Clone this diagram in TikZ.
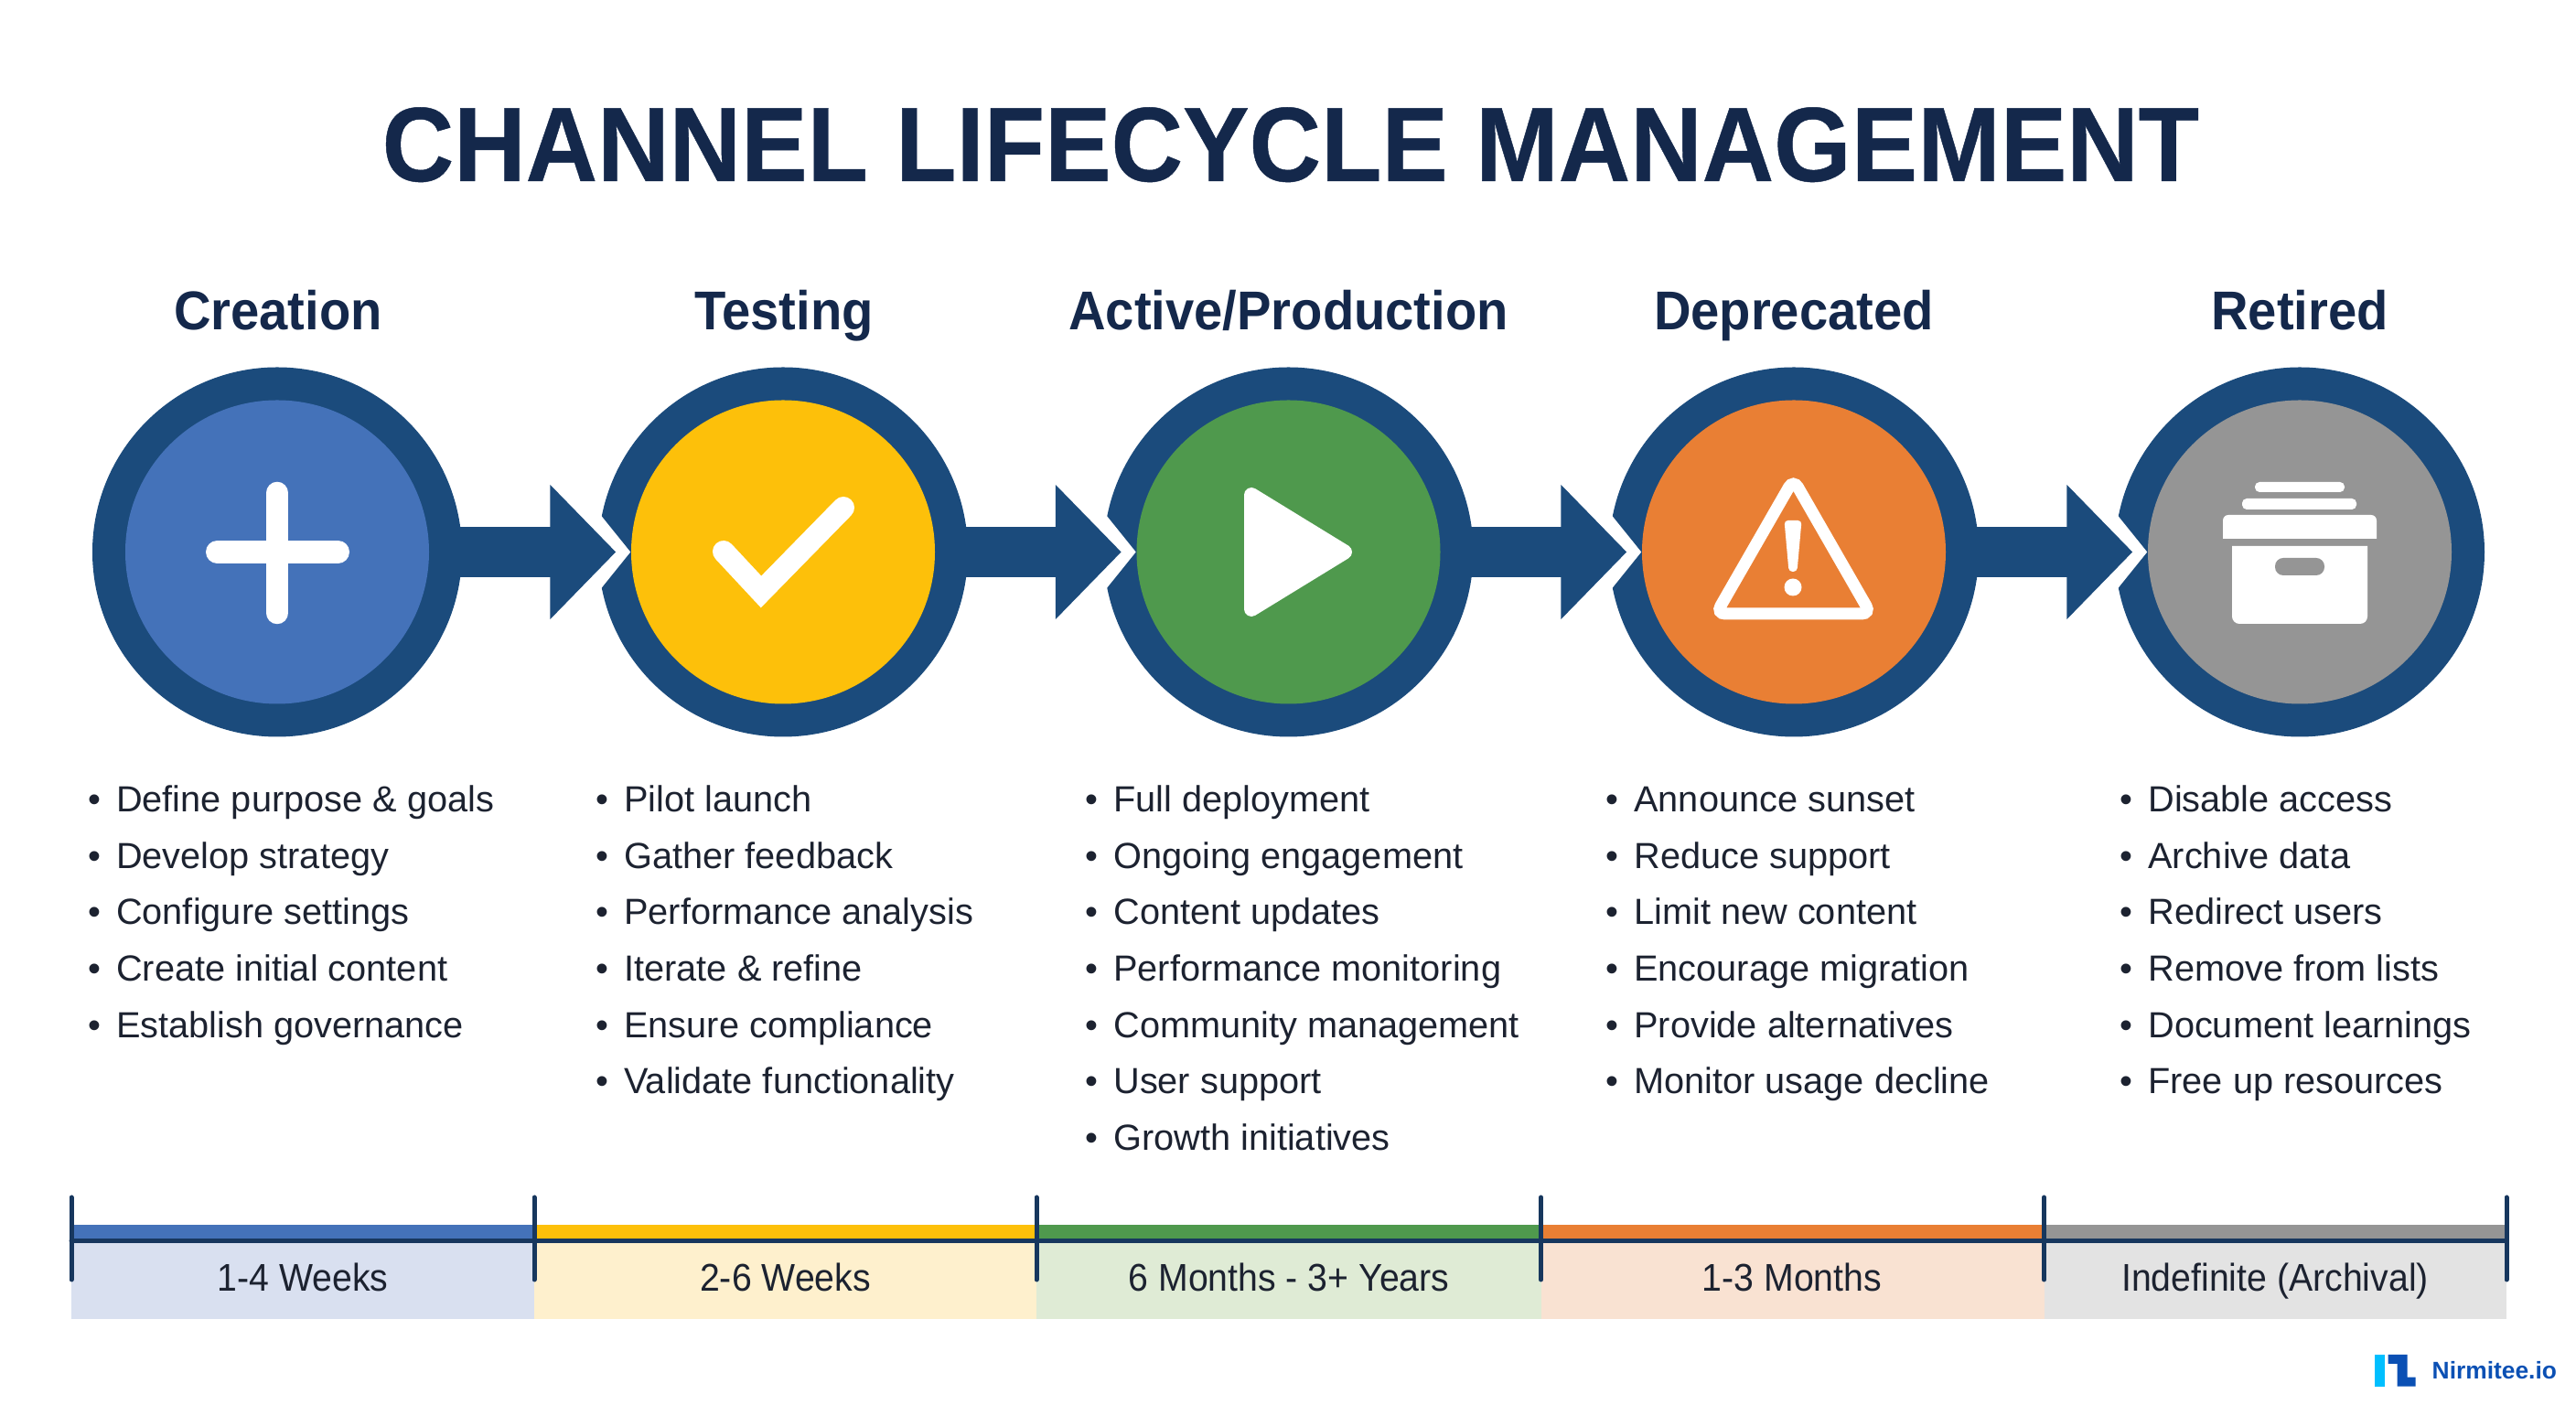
\documentclass[tikz,border=0pt]{standalone}
\usepackage{fontspec}
\setmainfont{Liberation Sans}
\newfontfamily\titlefont[FakeStretch=0.94, BoldFeatures={FakeBold=0.4}]{Liberation Sans}
\newfontfamily\namefont[FakeStretch=0.94]{Liberation Sans}
\newfontfamily\spanfont[FakeStretch=0.93]{Liberation Sans}
\usetikzlibrary{arrows.meta}

\definecolor{ringblue}{HTML}{1B4B7C}
\definecolor{tickblue}{HTML}{17375E}
\definecolor{headink}{HTML}{14284B}
\definecolor{bodyink}{HTML}{1C2230}
\definecolor{createblue}{HTML}{4472B9}
\definecolor{testyellow}{HTML}{FDC00A}
\definecolor{activegreen}{HTML}{4F994D}
\definecolor{deprorange}{HTML}{E97F34}
\definecolor{retiregray}{HTML}{959595}
\definecolor{createlight}{HTML}{D9E0F0}
\definecolor{testlight}{HTML}{FEF0CD}
\definecolor{activelight}{HTML}{DFEBD5}
\definecolor{deprlight}{HTML}{F9E2D2}
\definecolor{retirelight}{HTML}{E3E3E3}
\definecolor{logocyan}{HTML}{00BFFF}
\definecolor{logoblue}{HTML}{0B50B4}

\newcommand{\bl}{\makebox[0.307cm][l]{\rule{0pt}{10pt}\textbullet}}

\tikzset{
	ring/.style={circle, fill=ringblue, minimum size=4.04cm, inner sep=0},
	disc/.style={circle, minimum size=3.32cm, inner sep=0},
	stagearrow/.style={ringblue, line width=0.55cm, -{Triangle[width=1.43cm, length=0.72cm]}, shorten >=-0.2cm},
	arrowgap/.style={white, line width=0.2cm, -{Triangle[width=2.14cm, length=0.88cm]}, shorten >=-0.36cm},
	stagename/.style={anchor=base, text=headink, font=\fontsize{17pt}{20pt}\selectfont\namefont\bfseries},
	steps/.style={anchor=north west, inner sep=0, align=left, text=bodyink, font=\fontsize{11.3pt}{17.52pt}\selectfont},
	span/.style={anchor=base, text=bodyink, font=\fontsize{12pt}{14pt}\selectfont\spanfont},
	iconline/.style={white, line cap=round},
	tick/.style={tickblue, line width=0.05cm, line cap=round}
}

\begin{document}
\begin{tikzpicture}
	\useasboundingbox (0, 0) rectangle (28.16, 15.36);

	\node[anchor=base, text=headink, font=\fontsize{32.9pt}{36pt}\selectfont\titlefont\bfseries] (title) at (14.11, 13.38) {CHANNEL LIFECYCLE MANAGEMENT};

	\node[stagename] (creationname) at (3.04, 11.75) {Creation};
	\node[stagename] (testingname) at (8.57, 11.75) {Testing};
	\node[stagename] (activename) at (14.085, 11.75) {Active/Production};
	\node[stagename] (deprecatedname) at (19.61, 11.75) {Deprecated};
	\node[stagename] (retiredname) at (25.14, 11.75) {Retired};

	\node[ring] (creation) at (3.03, 9.325) {};
	\node[ring] (testing) at (8.56, 9.325) {};
	\node[ring] (active) at (14.085, 9.325) {};
	\node[ring] (deprecated) at (19.61, 9.325) {};
	\node[ring] (retired) at (25.14, 9.325) {};

	\draw[arrowgap] (creation.center) -- (testing);
	\draw[arrowgap] (testing.center) -- (active);
	\draw[arrowgap] (active.center) -- (deprecated);
	\draw[arrowgap] (deprecated.center) -- (retired);

	\draw[stagearrow] (creation.center) -- (testing);
	\draw[stagearrow] (testing.center) -- (active);
	\draw[stagearrow] (active.center) -- (deprecated);
	\draw[stagearrow] (deprecated.center) -- (retired);

	\node[disc, fill=createblue] (creationdisc) at (creation) {};
	\node[disc, fill=testyellow] (testingdisc) at (testing) {};
	\node[disc, fill=activegreen] (activedisc) at (active) {};
	\node[disc, fill=deprorange] (deprecateddisc) at (deprecated) {};
	\node[disc, fill=retiregray] (retireddisc) at (retired) {};

	% icons
	\draw[iconline, line width=0.245cm] (3.03, 9.97) -- (3.03, 8.66);
	\draw[iconline, line width=0.25cm] (2.375, 9.325) -- (3.695, 9.325);

	\draw[iconline, line width=0.24cm] (7.91, 9.33) -- (8.32, 8.89) -- (9.22, 9.81);

	\draw[white, fill=white, line width=0.16cm, line join=round] (13.68, 9.95) -- (13.68, 8.70) -- (14.70, 9.325) -- cycle;

	\draw[white, line width=0.13cm, rounded corners=0.1cm] (19.605, 10.12) -- (18.76, 8.65) -- (20.45, 8.65) -- cycle;
	\fill[white, rounded corners=0.04cm] (19.505, 9.67) -- (19.695, 9.67) -- (19.645, 9.11) -- (19.555, 9.11) -- cycle;
	\fill[white] (19.60, 8.94) circle (0.095);

	\fill[white, rounded corners=0.05cm] (24.65, 9.98) rectangle (25.63, 10.09);
	\fill[white, rounded corners=0.05cm] (24.51, 9.79) rectangle (25.76, 9.91);
	\fill[white] (24.30, 9.47) [rounded corners=0.06cm] -- (24.30, 9.73) -- (25.98, 9.73) [sharp corners] -- (25.98, 9.47) -- cycle;
	\fill[white] (24.40, 9.39) [rounded corners=0.08cm] -- (24.40, 8.54) -- (25.88, 8.54) [sharp corners] -- (25.88, 9.39) -- cycle;
	\fill[retiregray, rounded corners=0.09cm] (24.87, 9.07) rectangle (25.41, 9.26);

	% lists
	\node[steps] (creationlist) at (0.958, 6.84) {\bl Define purpose \& goals\\\bl Develop strategy\\\bl Configure settings\\\bl Create initial content\\\bl Establish governance};
	\node[steps] (testinglist) at (6.51, 6.84) {\bl Pilot launch\\\bl Gather feedback\\\bl Performance analysis\\\bl Iterate \& refine\\\bl Ensure compliance\\\bl Validate functionality};
	\node[steps] (activelist) at (11.86, 6.84) {\bl Full deployment\\\bl Ongoing engagement\\\bl Content updates\\\bl Performance monitoring\\\bl Community management\\\bl User support\\\bl Growth initiatives};
	\node[steps] (deprecatedlist) at (17.55, 6.84) {\bl Announce sunset\\\bl Reduce support\\\bl Limit new content\\\bl Encourage migration\\\bl Provide alternatives\\\bl Monitor usage decline};
	\node[steps] (retiredlist) at (23.17, 6.84) {\bl Disable access\\\bl Archive data\\\bl Redirect users\\\bl Remove from lists\\\bl Document learnings\\\bl Free up resources};

	% timeline
	\fill[createlight] (0.78, 0.94) rectangle (5.84, 1.80);
	\fill[testlight] (5.84, 0.94) rectangle (11.33, 1.80);
	\fill[activelight] (11.33, 0.94) rectangle (16.845, 1.80);
	\fill[deprlight] (16.845, 0.94) rectangle (22.345, 1.80);
	\fill[retirelight] (22.345, 0.94) rectangle (27.40, 1.80);

	\fill[createblue] (0.78, 1.80) rectangle (5.84, 1.97);
	\fill[testyellow] (5.84, 1.80) rectangle (11.33, 1.97);
	\fill[activegreen] (11.33, 1.80) rectangle (16.845, 1.97);
	\fill[deprorange] (16.845, 1.80) rectangle (22.345, 1.97);
	\fill[retiregray] (22.345, 1.80) rectangle (27.40, 1.97);

	\draw[tick] (0.78, 1.795) -- (27.40, 1.795);
	\draw[tick] (0.78, 2.27) -- (0.78, 1.37);
	\draw[tick] (5.84, 2.27) -- (5.84, 1.37);
	\draw[tick] (11.33, 2.27) -- (11.33, 1.37);
	\draw[tick] (16.845, 2.27) -- (16.845, 1.37);
	\draw[tick] (22.345, 2.27) -- (22.345, 1.37);
	\draw[tick] (27.40, 2.27) -- (27.40, 1.37);

	\node[span] (creationspan) at (3.31, 1.24) {1-4 Weeks};
	\node[span] (testingspan) at (8.585, 1.24) {2-6 Weeks};
	\node[span] (activespan) at (14.09, 1.24) {6 Months - 3+ Years};
	\node[span] (deprecatedspan) at (19.59, 1.24) {1-3 Months};
	\node[span] (retiredspan) at (24.87, 1.24) {Indefinite (Archival)};

	% logo
	\fill[logocyan] (25.96, 0.20) rectangle (26.07, 0.55);
	\fill[logoblue] (26.107, 0.55) -- (26.317, 0.55) -- (26.317, 0.303) -- (26.407, 0.303) -- (26.407, 0.203) -- (26.207, 0.203) -- (26.207, 0.45) -- (26.107, 0.45) -- cycle;
	\node[anchor=base west, inner sep=0, text=logoblue, font=\fontsize{7.5pt}{9pt}\selectfont\bfseries] (logotext) at (26.58, 0.283) {Nirmitee.io};
\end{tikzpicture}
\end{document}
